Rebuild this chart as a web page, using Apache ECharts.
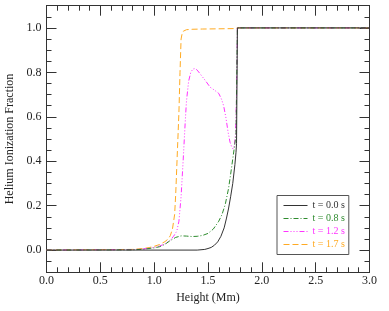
<!DOCTYPE html>
<html>
<head>
<meta charset="utf-8">
<script src="https://cdn.jsdelivr.net/npm/echarts@6/dist/echarts.min.js"></script>
<style>html,body{margin:0;padding:0;background:#fff;}#chart{width:389px;height:311px;}</style>
</head>
<body>
<div id="chart"></div>
<script>
var seriesNames = ['t = 0.0 s', 't = 0.8 s', 't = 1.2 s', 't = 1.7 s'];
var seriesColors = ['#333333', '#2e8b2e', '#ff33ff', '#ffaa22'];

var heightT00 = [0, 1.40, 1.47, 1.50, 1.53, 1.56, 1.59, 1.62, 1.65, 1.67, 1.69, 1.71, 1.73, 1.75, 1.76, 1.765, 1.773, 1.78, 2.0, 3.0];
var fracT00   = [0, 0.000, 0.003, 0.007, 0.012, 0.022, 0.037, 0.062, 0.100, 0.140, 0.185, 0.240, 0.300, 0.385, 0.44, 0.48, 1.0, 1.0, 1.0, 1.0];

var heightT08 = [0, 0.80, 0.90, 1.00, 1.05, 1.10, 1.15, 1.20, 1.25, 1.30, 1.35, 1.40, 1.45, 1.50, 1.55, 1.60, 1.63, 1.66, 1.69, 1.71, 1.73, 1.75, 1.76, 1.773, 1.78, 3.0];
var fracT08   = [0, 0.001, 0.004, 0.010, 0.015, 0.026, 0.043, 0.057, 0.064, 0.063, 0.061, 0.062, 0.066, 0.075, 0.095, 0.130, 0.160, 0.205, 0.275, 0.340, 0.41, 0.48, 0.52, 1.0, 1.0, 1.0];

var heightT12 = [0, 0.80, 0.90, 1.00, 1.05, 1.10, 1.15, 1.18, 1.21, 1.23, 1.25, 1.27, 1.28, 1.29, 1.30, 1.32, 1.34, 1.36, 1.38, 1.40, 1.44, 1.48, 1.52, 1.56, 1.60, 1.625, 1.645, 1.665, 1.687, 1.705, 1.72, 1.733, 1.745, 1.755, 1.765, 1.773, 1.78, 3.0];
var fracT12   = [0, 0.002, 0.005, 0.012, 0.018, 0.028, 0.045, 0.062, 0.085, 0.13, 0.24, 0.41, 0.50, 0.59, 0.67, 0.76, 0.80, 0.815, 0.817, 0.81, 0.785, 0.76, 0.733, 0.72, 0.705, 0.68, 0.65, 0.60, 0.53, 0.485, 0.465, 0.455, 0.47, 0.52, 0.70, 1.0, 1.0, 1.0];

var heightT17 = [0, 0.80, 0.90, 0.96, 1.00, 1.05, 1.10, 1.13, 1.15, 1.17, 1.19, 1.20, 1.217, 1.23, 1.24, 1.25, 1.26, 1.27, 1.30, 1.36, 1.45, 1.60, 1.75, 1.773, 1.80, 3.0];
var fracT17   = [0, 0.003, 0.007, 0.012, 0.017, 0.025, 0.038, 0.050, 0.065, 0.095, 0.16, 0.25, 0.46, 0.62, 0.80, 0.95, 0.975, 0.985, 0.992, 0.994, 0.995, 0.996, 0.997, 1.0, 1.0, 1.0];

var xTicks = [0, 0.5, 1.0, 1.5, 2.0, 2.5, 3.0];
var yTicks = [0, 0.2, 0.4, 0.6, 0.8, 1.0];

function zip(xs, ys) { return xs.map(function (x, i) { return [x, ys[i]]; }); }

var heights = [heightT00, heightT08, heightT12, heightT17];
var fracs = [fracT00, fracT08, fracT12, fracT17];
var dashes = ['solid', [5, 2, 1, 2], [5, 2, 1, 2, 1, 2, 1, 2], [6, 3]];

var font = "'Liberation Serif', 'Times New Roman', serif";
var axisColor = '#333';
var textColor = '#222';

function xAx(pos, labels) {
  return {
    type: 'value', position: pos, min: 0, max: 3, interval: 0.5,
    axisLine: { show: true, onZero: false, lineStyle: { color: axisColor, width: 1 } },
    axisTick: { show: true, inside: true, length: 10, lineStyle: { color: axisColor } },
    minorTick: { show: true, splitNumber: 5, length: 5, lineStyle: { color: axisColor } },
    splitLine: { show: false }, minorSplitLine: { show: false },
    axisLabel: { show: labels, margin: 3, fontFamily: font, fontSize: 12, color: textColor,
      formatter: function (v) { return v.toFixed(1); } },
    name: labels ? 'Height (Mm)' : '', nameLocation: 'middle', nameGap: 15,
    nameTextStyle: { fontFamily: font, fontSize: 12, color: textColor }
  };
}
function yMinor(pos) {
  return {
    type: 'value', position: pos, min: -0.1, max: 1.1, interval: 0.05, offset: 0,
    axisLine: { show: true, onZero: false, lineStyle: { color: axisColor, width: 1 } },
    axisTick: { show: true, inside: true, length: 5, lineStyle: { color: axisColor } },
    splitLine: { show: false }, axisLabel: { show: false }
  };
}
function yMajor(pos, labels) {
  return {
    type: 'value', position: pos, min: -0.1, max: 1.1, offset: 0,
    axisLine: { show: true, onZero: false, lineStyle: { color: axisColor, width: 1 } },
    axisTick: { show: true, inside: true, length: 10, customValues: yTicks, lineStyle: { color: axisColor } },
    splitLine: { show: false },
    axisLabel: { show: labels, margin: 5, customValues: yTicks, fontFamily: font, fontSize: 12, color: textColor,
      formatter: function (v) { return v.toFixed(1); } },
    name: labels ? 'Helium Ionization Fraction' : '', nameLocation: 'middle', nameGap: 25,
    nameTextStyle: { fontFamily: font, fontSize: 12, color: textColor }
  };
}

var chart = echarts.init(document.getElementById('chart'), null, { renderer: 'canvas' });
chart.setOption({
  animation: false,
  backgroundColor: '#fff',
  grid: { left: 46.5, right: 19.5, top: 5.7, bottom: 38.7, containLabel: false, outerBoundsMode: 'none' },
  xAxis: [xAx('bottom', true), xAx('top', false)],
  yAxis: [yMinor('left'), yMajor('left', true), yMinor('right'), yMajor('right', false)],
  legend: {
    orient: 'vertical', left: 277, top: 195.5,
    padding: [5, 4, 5, 6], itemGap: 3, itemWidth: 24, itemHeight: 10,
    borderColor: '#555', borderWidth: 1, backgroundColor: '#fff',
    itemStyle: { opacity: 0 },
    lineStyle: { opacity: 1, width: 1 },
    textStyle: { fontFamily: font, fontSize: 10 },
    data: seriesNames.map(function (n, i) { return { name: n, textStyle: { color: seriesColors[i] } }; })
  },
  series: seriesNames.map(function (n, i) {
    return {
      name: n, type: 'line', xAxisIndex: 0, yAxisIndex: 0,
      data: zip(heights[i], fracs[i]),
      showSymbol: false, symbol: 'none', smooth: false,
      lineStyle: { color: seriesColors[i], width: 1, type: dashes[i] },
      itemStyle: { color: seriesColors[i] },
      z: 10 - i
    };
  })
});
</script>
</body>
</html>
